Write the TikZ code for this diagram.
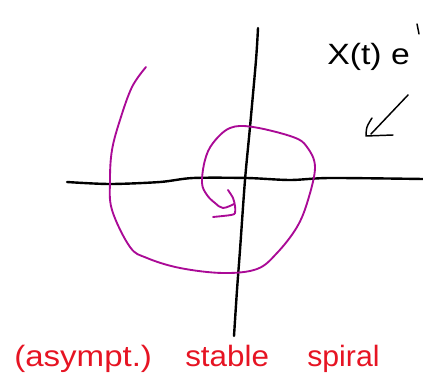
\documentclass[tikz,border=0pt]{standalone}
\usepackage{fontspec}
\setmainfont{Liberation Sans}
\definecolor{spiralmag}{RGB}{170,10,150}
\definecolor{hwred}{RGB}{230,20,35}
\tikzset{
  axis/.style={line width=1.8pt,black,line cap=round,line join=round},
  spiral/.style={line width=1.4pt,spiralmag,line cap=round,line join=round},
  ink/.style={line width=1.1pt,black,line cap=round,line join=round},
  redlabel/.style={text=hwred,font=\fontsize{21}{24}\selectfont,inner sep=0pt,anchor=base west},
  blacklabel/.style={text=black,font=\fontsize{22}{26}\selectfont,inner sep=0pt,anchor=base west}
}
\begin{document}
\begin{tikzpicture}[x=0.75pt,y=-0.75pt]
\useasboundingbox (0,0) rectangle (423,374);
% axes
\draw[axis] plot[smooth,tension=0.5] coordinates {(67,182) (110,184) (160,182) (193,178) (247,178) (290,180) (330,178) (423,179)};
\draw[axis] plot[smooth,tension=0.5] coordinates {(258,28) (256,60) (250,127) (245,180) (240,250) (237,290) (234,336)};
% spiral
\draw[spiral] plot[smooth,tension=0.6] coordinates {(146,67) (132,87) (120,120) (112,150) (110,180) (112,210) (130,247) (147,258) (180,268) (223,273) (257,269) (277,253) (297,227) (308,200) (315,167) (307,147) (293,137) (253,127) (230,128) (213,143) (205,160) (202,183) (207,195) (215,203) (223,208) (234,204)};
\draw[spiral] plot[smooth,tension=0.5] coordinates {(228,190) (233,198) (235,206) (235,213) (231,215) (213,217)};
% top-right label and arrow
\node[blacklabel,xscale=1.15] (xt) at (327,65) {X(t) e};
\draw[ink] (417,24) -- (419,34);
\draw[ink] (408,95) -- (371,134);
\draw[ink] plot[smooth,tension=0.6] coordinates {(372,118) (367,127) (366,136)} -- (393,135);
% red caption
\node[redlabel,xscale=1.18,yscale=1.05] (w1) at (14,366) {(asympt.)};
\node[redlabel,xscale=1.12,yscale=1.05] (w2) at (185,366) {stable};
\node[redlabel,xscale=1.08,yscale=1.05] (w3) at (307,366) {spiral};
\end{tikzpicture}
\end{document}
